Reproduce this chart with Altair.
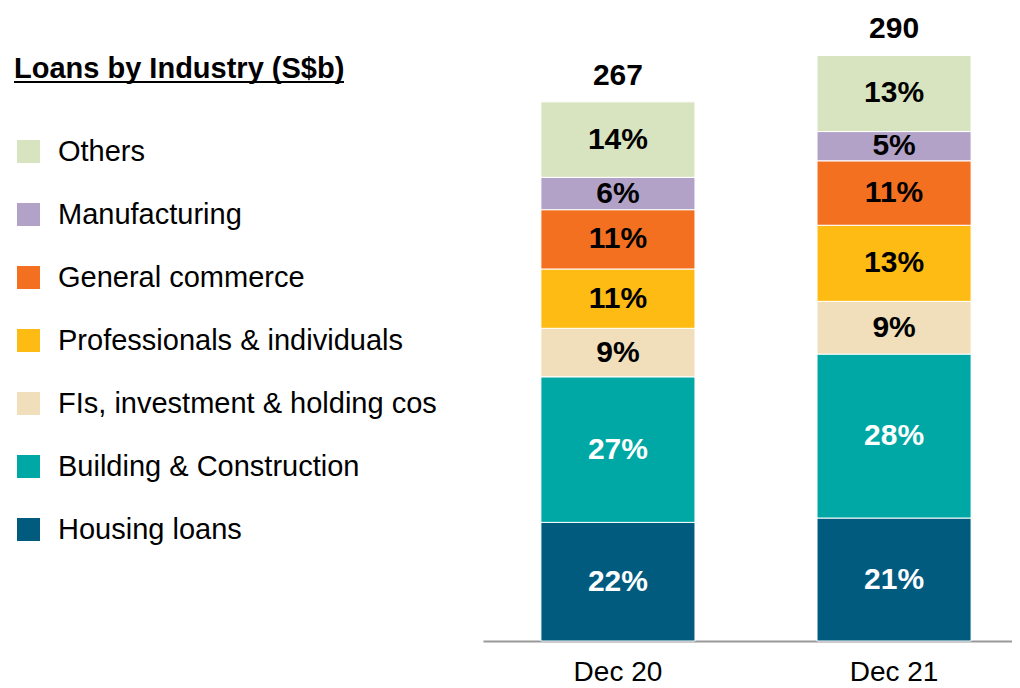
import altair as alt
import pandas as pd

periods = ["Dec 20", "Dec 21"]
totals = [267, 290]
industries = [
    "Housing loans",
    "Building & Construction",
    "FIs, investment & holding cos",
    "Professionals & individuals",
    "General commerce",
    "Manufacturing",
    "Others",
]
share_dec20 = [22, 27, 9, 11, 11, 6, 14]
share_dec21 = [21, 28, 9, 13, 11, 5, 13]
colors = ["#005B7F", "#00A8A5", "#F0DFBA", "#FDBB13", "#F37021", "#B3A2C8", "#D8E4BF"]

rows = []
for p, t, shares in zip(periods, totals, [share_dec20, share_dec21]):
    cum = 0.0
    for i, (ind, s) in enumerate(zip(industries, shares)):
        v = t * s / 100.0
        rows.append(dict(period=p, industry=ind, order=i, value=v, lo=cum, hi=cum + v,
                         mid=cum + v / 2, label=f"{s}%"))
        cum += v
df = pd.DataFrame(rows)
tot_df = pd.DataFrame({"period": periods, "total": totals})

FONT = "Liberation Sans"

xscale = alt.Scale(domain=periods, paddingInner=0.442, paddingOuter=0.179, align=0.586)
xaxis = alt.Axis(labelAngle=0, labelFontSize=28, labelColor="black", labelFont=FONT,
                 ticks=False, domainColor="#999999", domainWidth=2, labelPadding=17,
                 grid=False, title=None)
yscale = alt.Scale(domain=[0, 312])

bars = alt.Chart(df).mark_bar(stroke="white", strokeWidth=1).encode(
    x=alt.X("period:N", scale=xscale, axis=xaxis, sort=periods),
    y=alt.Y("lo:Q", scale=yscale, axis=None),
    y2="hi:Q",
    color=alt.Color(
        "industry:N",
        scale=alt.Scale(domain=industries[::-1], range=colors[::-1]),
        legend=alt.Legend(
            title="Loans by Industry (S$b)",
            titleFontSize=29, titleFont=FONT, titleFontWeight="bold", titleColor="black",
            titlePadding=53, titleLimit=600,
            orient="none", legendX=-469, legendY=44,
            labelFontSize=29, labelFont=FONT, labelColor="black", labelLimit=600,
            labelOffset=15, symbolType="square", symbolSize=529, symbolStrokeWidth=0,
            symbolOpacity=1, rowPadding=33, padding=0,
        ),
    ),
)

pct = alt.Chart(df).mark_text(fontSize=30, fontWeight="bold", font=FONT, baseline="middle").encode(
    x=alt.X("period:N", scale=xscale, axis=xaxis, sort=periods),
    y=alt.Y("mid:Q", scale=yscale, axis=None),
    text="label:N",
    color=alt.condition("datum.order < 2", alt.value("white"), alt.value("black")),
)

tot = alt.Chart(tot_df).mark_text(fontSize=30, fontWeight="bold", font=FONT, baseline="alphabetic",
                                  dy=-17, color="black").encode(
    x=alt.X("period:N", scale=xscale, axis=xaxis, sort=periods),
    y=alt.Y("total:Q", scale=yscale, axis=None),
    text="total:Q",
)

underline = alt.Chart(tot_df).mark_rule(color="black", strokeWidth=2).encode(
    x=alt.value(-469), x2=alt.value(-139), y=alt.value(71)
)

chart = alt.layer(bars, pct, tot, underline).properties(
    width=529, height=630,
    padding={"left": 475, "top": 3, "right": 0, "bottom": 46},
    autosize=alt.AutoSizeParams(type="none"),
).configure_view(stroke=None)

chart.save("out.html", embed_options={"renderer": "svg", "actions": False})
